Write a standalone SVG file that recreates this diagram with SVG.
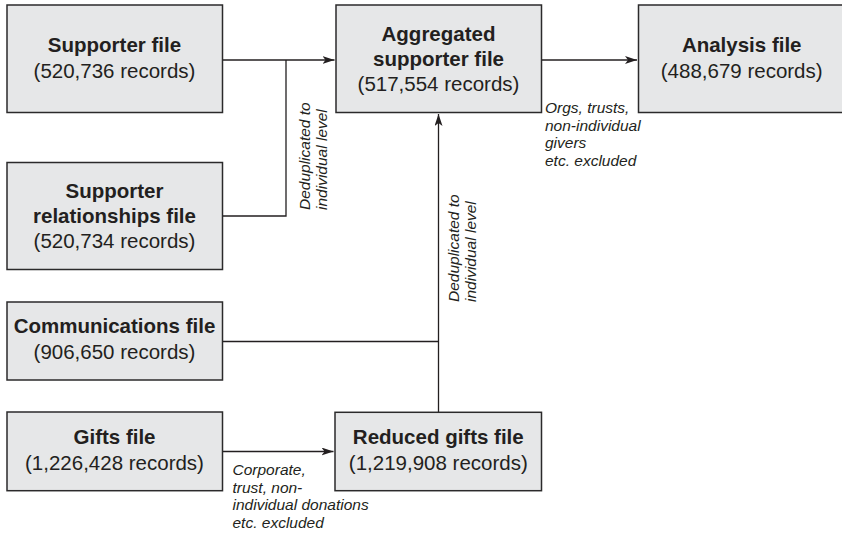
<svg xmlns="http://www.w3.org/2000/svg" width="842" height="536" viewBox="0 0 842 536">
<style>
.box{fill:#e6e7e8;stroke:#2b2a2b;stroke-width:1.5}
.t{font-family:"Liberation Sans",Arial,sans-serif;font-size:20.5px;fill:#231f20;text-anchor:middle}
.b{font-weight:bold}
.lab{font-family:"Liberation Sans",Arial,sans-serif;font-size:15.5px;font-style:italic;fill:#231f20}
.ln{fill:none;stroke:#231f20;stroke-width:1.3}
</style>
<defs>
<marker id="arr" markerUnits="userSpaceOnUse" markerWidth="14" markerHeight="10" refX="12" refY="4" orient="auto">
<path d="M0,0 L12,4 L0,8 L3,4 z" fill="#231f20"/>
</marker>
</defs>
<rect width="842" height="536" fill="#ffffff"/>
<g id="connectors">
<path class="ln" d="M222,60 L334.5,60" marker-end="url(#arr)"/>
<path class="ln" d="M286,60 L286,216 L222.5,216"/>
<path class="ln" d="M541.5,60 L637,60" marker-end="url(#arr)"/>
<path class="ln" d="M438.5,412 L438.5,114" marker-end="url(#arr)"/>
<path class="ln" d="M222,341.5 L438.5,341.5"/>
<path class="ln" d="M222,451.5 L333.5,451.5" marker-end="url(#arr)"/>
<text class="lab" transform="translate(310,210) rotate(-90)">Deduplicated to</text>
<text class="lab" transform="translate(327,210) rotate(-90)">individual level</text>
<text class="lab" transform="translate(459,302) rotate(-90)">Deduplicated to</text>
<text class="lab" transform="translate(476,302) rotate(-90)">individual level</text>
<text class="lab" x="545" y="113">Orgs, trusts,</text>
<text class="lab" x="545" y="130.7">non-individual</text>
<text class="lab" x="545" y="148.4">givers</text>
<text class="lab" x="545" y="166">etc. excluded</text>
<text class="lab" x="232.5" y="475">Corporate,</text>
<text class="lab" x="232.5" y="492.7">trust, non-</text>
<text class="lab" x="232.5" y="510.4">individual donations</text>
<text class="lab" x="232.5" y="528">etc. excluded</text>
</g>
<g id="supporter">
<rect class="box" x="7" y="5" width="215.5" height="107.5"/>
<text class="t b" x="114.5" y="52">Supporter file</text>
<text class="t" x="114.5" y="77.5">(520,736 records)</text>
</g>
<g id="relationships">
<rect class="box" x="7" y="162.5" width="215.5" height="107"/>
<text class="t b" x="114.5" y="197.7">Supporter</text>
<text class="t b" x="114.5" y="222.7">relationships file</text>
<text class="t" x="114.5" y="247.7">(520,734 records)</text>
</g>
<g id="aggregated">
<rect class="box" x="336" y="5" width="205.5" height="107.5"/>
<text class="t b" x="438.5" y="40.5">Aggregated</text>
<text class="t b" x="438.5" y="65.5">supporter file</text>
<text class="t" x="438.5" y="90.5">(517,554 records)</text>
</g>
<g id="analysis">
<rect class="box" x="638.5" y="5" width="208" height="107.5"/>
<text class="t b" x="741.7" y="52">Analysis file</text>
<text class="t" x="741.7" y="77.5">(488,679 records)</text>
</g>
<g id="communications">
<rect class="box" x="7" y="302" width="215.5" height="78"/>
<text class="t b" x="114.5" y="333.3">Communications file</text>
<text class="t" x="114.5" y="359.3">(906,650 records)</text>
</g>
<g id="gifts">
<rect class="box" x="7" y="412" width="215.5" height="78.7"/>
<text class="t b" x="114.5" y="444">Gifts file</text>
<text class="t" x="114.5" y="470">(1,226,428 records)</text>
</g>
<g id="reduced">
<rect class="box" x="335" y="412.3" width="206.5" height="78.4"/>
<text class="t b" x="438.3" y="444.3">Reduced gifts file</text>
<text class="t" x="438.3" y="469.5">(1,219,908 records)</text>
</g>
</svg>
